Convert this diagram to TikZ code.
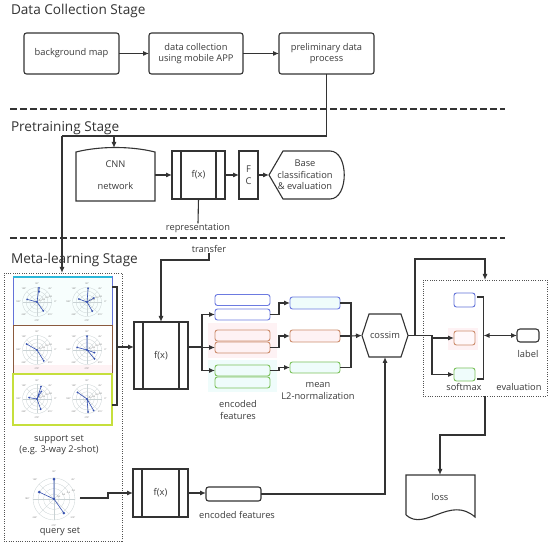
\documentclass[tikz,border=0pt]{standalone}
\usepackage{fontspec}
\setmainfont{Open Sans}
\usetikzlibrary{arrows.meta,calc}
\definecolor{ln}{HTML}{333333}
\definecolor{tx}{HTML}{3A3A3A}
\definecolor{bluB}{HTML}{6272D8}
\definecolor{cyaT}{HTML}{2BB8DA}
\definecolor{broB}{HTML}{8A5A3E}
\definecolor{ygrB}{HTML}{C6DF3C}
\definecolor{encB}{HTML}{6C7AE0}
\definecolor{encO}{HTML}{CC8C6C}
\definecolor{encG}{HTML}{7CC15C}
\definecolor{pinkF}{HTML}{FEF2F4}
\definecolor{cyanF}{HTML}{EFFCFB}
\definecolor{gridc}{HTML}{C9D2D4}
\definecolor{datc}{HTML}{3550B0}
\definecolor{labc}{HTML}{666666}
\newcommand{\polarplot}[5]{%
\begin{scope}[shift={(#1,#2)}]
 \begin{scope}[yscale=-1,scale=#3]
  \foreach \prr in {0.25,0.5,0.75,1} \draw[pgrid] (0,0) circle (\prr);
  \foreach \pang in {0,45,...,315} \draw[pgrid] (0,0) -- (\pang:1);
  \draw[dat] #4;
  \foreach \pang/\prr in {#5} \fill[datc] (\pang:\prr) circle (0.07);
  \foreach \pang in {0,45,...,315} \node[plab] at (\pang:1.28) {\pang°};
  \foreach \pv/\pt in {0.25/0.2,0.5/0.4,0.75/0.6,1/0.8} \node[plab] at (22.5:\pv) {\pt};
 \end{scope}
\end{scope}}
\begin{document}
\begin{tikzpicture}[x=1pt,y=-1pt,
 font=\fontsize{9.3}{11.5}\selectfont, text=tx,
 every node/.style={inner sep=0pt, outer sep=0pt},
 title/.style={anchor=west, font=\fontsize{13.6}{15}\selectfont, text=ln},
 box/.style={draw=ln, line width=1.1pt, rounded corners=2.5pt, align=center, fill=white},
 fxbox/.style={draw=ln, line width=1.1pt, fill=white, path picture={\draw[ln, line width=1.1pt] ([xshift=9pt]path picture bounding box.north west) -- ([xshift=9pt]path picture bounding box.south west) ([xshift=-9pt]path picture bounding box.north east) -- ([xshift=-9pt]path picture bounding box.south east);}},
 wire/.style={draw=ln, line width=1.1pt},
 arr/.style={wire, -{Latex[length=6pt,width=5pt]}},
 darr/.style={wire, {Latex[length=6pt,width=5pt]}-{Latex[length=6pt,width=5pt]}},
 sep/.style={draw=ln, line width=1.3pt, dash pattern=on 6.5pt off 3.5pt},
 dotbox/.style={draw=ln!85, line width=0.8pt, dash pattern=on 1pt off 1.3pt},
 enc/.style={draw=#1, line width=0.9pt, rounded corners=2.5pt, minimum width=55pt, minimum height=11pt},
 pgrid/.style={draw=gridc, line width=0.3pt},
 dat/.style={draw=datc, line width=0.6pt},
 plab/.style={font=\fontsize{2.2}{2.5}\selectfont, text=labc},
 lbl/.style={align=center}]
\useasboundingbox (0,0) rectangle (550,545);
\fill[white] (0,0) rectangle (550,545);

% titles and separators
\node[title] (t1) at (11,11) {Data Collection Stage};
\node[title] (t2) at (11,128) {Pretraining Stage};
\node[title] (t3) at (11,260) {Meta-learning Stage};
\draw[sep] (10,109) -- (505,109);
\draw[sep] (10,238) -- (505,238);

% data collection
\node[box, minimum width=95pt, minimum height=41pt] (bg) at (71.5,53.5) {background map};
\node[box, minimum width=94pt, minimum height=41pt] (dc) at (196,53.5) {data collection\\using mobile APP};
\node[box, minimum width=95pt, minimum height=41pt] (pre) at (326.5,53.5) {preliminary data\\process};
\draw[arr] (bg) -- (dc);
\draw[arr] (dc) -- (pre);

% pretraining
\node[minimum width=79pt, minimum height=50pt, align=center] (cnn) at (115.5,175) {CNN\\[10.5pt]network};
\draw[wire] (76,201) -- (76,152) .. controls (100,146) and (131,146) .. (155,152) -- (155,201) -- cycle;
\node[fxbox, minimum width=53pt, minimum height=48pt] (fx1) at (198.5,175) {f(x)};
\node[draw=ln, line width=1.1pt, minimum width=19pt, minimum height=48pt, align=center] (fc) at (248.5,175) {F\\C};
\node[minimum width=72pt, minimum height=48pt, align=center] (base) at (305,175) {Base\\classification\\\& evaluation};
\draw[wire] (269,175) -- (283,151) -- (330,151) .. controls (349,151) and (349,199) .. (330,199) -- (283,199) -- cycle;
\node (rep) at (198,228) {representation};
\coordinate (j1) at (326.5,136);
\coordinate (j2) at (62,136);
\coordinate (j3) at (114,136);
\coordinate (cnntop) at (114,148);
\draw[wire] (pre.south) -- (j1) -- (j2);
\draw[arr] (j3) -- (cnntop);
\draw[arr] (fx1.west -| cnn.east) -- (fx1.west);
\draw[arr] (fx1) -- (fc);
\draw[arr] (fc) -- (base);
\draw[wire] (fx1.south) -- (rep.north);

% meta-learning: support set
\node[dotbox, minimum width=118pt, minimum height=268pt] (sup) at (63,407) {};
\draw[arr] (j2) -- (j2 |- sup.north);
\node[draw=bluB, line width=1pt, fill=cyanF!50, minimum width=99pt, minimum height=49pt] (sb1) at (62.5,301.5) {};
\draw[cyaT, line width=1.3pt] (sb1.north west) -- (sb1.north east);
\node[draw=broB, line width=1pt, fill=white, minimum width=99pt, minimum height=48pt,
  path picture={\fill[pinkF] ($(path picture bounding box.south west)+(0,-9)$) rectangle (path picture bounding box.south east);}] (sb2) at (62.5,350) {};
\node[draw=ygrB, line width=1.1pt, fill=white, minimum width=99pt, minimum height=51pt] (sb3) at (62.5,399.5) {};

\polarplot{37}{302}{14.5}{(165:0.7)--(0,0)--(82:0.98)--(78:0.72) (0,0)--(305:0.75)}{165/0.7,82/0.98,78/0.72,305/0.75,0/0}
\polarplot{87}{302}{14.5}{(160:0.6)--(0,0)--(85:0.95) (0,0)--(300:0.72) (0,0)--(30:0.55)}{160/0.6,85/0.95,300/0.72,30/0.55,0/0}
\polarplot{37}{350}{14.5}{(150:0.82)--(0,0)--(302:0.88)}{150/0.82,302/0.88,0/0}
\polarplot{87}{350}{14.5}{(90:0.95)--(0,0)--(310:0.8) (165:0.7)--(0,0)--(340:0.55)}{90/0.95,310/0.8,165/0.7,340/0.55,0/0}
\polarplot{37}{399}{14.5}{(72:0.9)--(0,0)--(290:0.75) (170:0.55)--(0,0)--(60:0.6)}{72/0.9,290/0.75,170/0.55,60/0.6,0/0}
\polarplot{87}{399}{14.5}{(145:0.8)--(0,0)--(300:0.92) (0,0)--(275:0.9)}{145/0.8,300/0.92,275/0.9,0/0}

\node[lbl] (supl) at (59,445) {support set\\(e.g. 3-way 2-shot)};
\node[minimum size=42pt] (qplot) at (54,499) {};
\polarplot{54}{499}{21}{(155:0.78)--(0,0)--(305:0.82) (0,0)--(90:0.95)}{155/0.78,305/0.82,90/0.95,0/0}
\node (ql) at (60,532) {query set};

% f(x) meta
\node[fxbox, minimum width=54pt, minimum height=67pt] (fxm) at (161,355.5) {f(x)};
\node (tr) at (209,249) {transfer};
\coordinate (tc) at (161,260);
\draw[arr] (tr.south) |- (tc) -- (fxm.north);
\coordinate (bk1) at (117,287);
\coordinate (bk2) at (117,405);
\coordinate (bkm) at (117,347);
\draw[wire] (sb1.east |- bk1) -- (bk1) -- (bk2) -- (sb3.east |- bk2);
\draw[arr] (bkm) -- (bkm -| fxm.west);

% encoded features (support)
\fill[pinkF] (208,323) rectangle (277,358);
\fill[cyanF] (208,360) rectangle (277,392);
\node[enc=encB, fill=white] (e1a) at (242.5,300) {};
\node[enc=encB, fill=white] (e1b) at (242.5,314.5) {};
\node[enc=encO, fill=pinkF] (e2a) at (242.5,335.5) {};
\node[enc=encO, fill=pinkF] (e2b) at (242.5,347.5) {};
\node[enc=encG, fill=cyanF] (e3a) at (242.5,370.5) {};
\node[enc=encG, fill=cyanF] (e3b) at (242.5,382.5) {};
\coordinate (bp) at (202,347);
\draw[wire] (fxm.east |- bp) -- (bp);
\draw[arr] (bp) |- (e1b.west);
\draw[arr] (bp) |- (e2b.west);
\draw[arr] (bp) |- (e3a.west);
\node[lbl] (el) at (238,410) {encoded\\features};

% mean L2-normalization
\node[enc=encB, fill=cyanF, minimum width=50pt, minimum height=12pt] (m1) at (315,303) {};
\node[enc=encO, fill=pinkF, minimum width=50pt, minimum height=12pt] (m2) at (315,336) {};
\node[enc=encG, fill=cyanF, minimum width=50pt, minimum height=11pt] (m3) at (315,367.5) {};
\draw[arr] (e1b.east) -- ++(9,0) |- (m1.west);
\draw[arr] (e2b.east) -- ++(9,0) |- (m2.west);
\draw[arr] (e3a.east) -- ++(9,0) |- (m3.west);
\node[lbl] (ml) at (318,391) {mean\\L2-normalization};

% cossim
\node[minimum width=46pt, minimum height=43pt] (cos) at (385,335.5) {cossim};
\draw[wire] (362,335.5) -- (369,314) -- (401,314) -- (408,335.5) -- (401,357) -- (369,357) -- cycle;
\coordinate (mb) at (351,336);
\draw[wire] (m1.east) -| (mb);
\draw[wire] (m3.east) -| (mb);
\draw[wire] (m2.east) -- (mb);
\draw[arr] (mb) -- (cos.west);

% query branch
\node[fxbox, minimum width=55pt, minimum height=48pt] (fxq) at (160.5,493) {f(x)};
\node[draw=ln, line width=1.1pt, rounded corners=2.5pt, fill=white, minimum width=55pt, minimum height=14pt] (encq) at (233.5,494) {};
\node (encql) at (237,515) {encoded features};
\coordinate (qo) at (80,498);
\coordinate (qk) at (108,498);
\draw[arr] (qo) -- (qk) |- (fxq.west);
\draw[arr] (fxq.east) -- (fxq.east -| encq.west);
\coordinate (ec) at (385,494);
\draw[arr] (encq.east) -- (ec) -- (cos.south);

% evaluation
\node[dotbox, minimum width=124pt, minimum height=116pt] (eval) at (485,338) {};
\fill[pinkF] (448,328) rectangle (478,350);
\node[enc=bluB, fill=white, minimum width=21pt, minimum height=14pt] (s1) at (464.5,300) {};
\node[enc=encO, fill=pinkF!50, minimum width=21pt, minimum height=14pt] (s2) at (464.5,338) {};
\node[enc=encG, fill=cyanF, minimum width=21pt, minimum height=13pt] (s3) at (464.5,374.5) {};
\coordinate (jc) at (432,335.5);
\coordinate (ju) at (415,335.5);
\draw[wire] (cos.east) -- (jc);
\draw[arr] (jc) |- (s2.west);
\draw[arr] (jc) |- (s3.west);
\draw[arr] (ju) |- ([yshift=21pt]eval.north) -- (eval.north);
\coordinate (sk1) at (483.5,297);
\coordinate (sk2) at (483.5,379);
\coordinate (skm) at (483.5,335.5);
\draw[wire] ([xshift=2pt]s1.east |- sk1) -- (sk1) -- (sk2) -- ([xshift=2pt]s3.east |- sk2);
\node[draw=ln, line width=1.1pt, rounded corners=3pt, fill=white, minimum width=22pt, minimum height=13pt] (lab) at (528,335.5) {};
\draw[darr] (skm) -- (lab.west);
\node (labl) at (528,354) {label};
\node (smx) at (464,387) {softmax};
\node (evl) at (519,387) {evaluation};

% loss
\node[minimum width=69pt, minimum height=44pt] (loss) at (440,497) {loss};
\draw[wire] (406,515) -- (406,475) -- (475,475) -- (475,517) .. controls (450,495) and (425,532) .. (406,515);
\coordinate (lj) at (485,435);
\draw[arr] (eval.south) -- (lj) -| (loss.north);
\end{tikzpicture}
\end{document}
